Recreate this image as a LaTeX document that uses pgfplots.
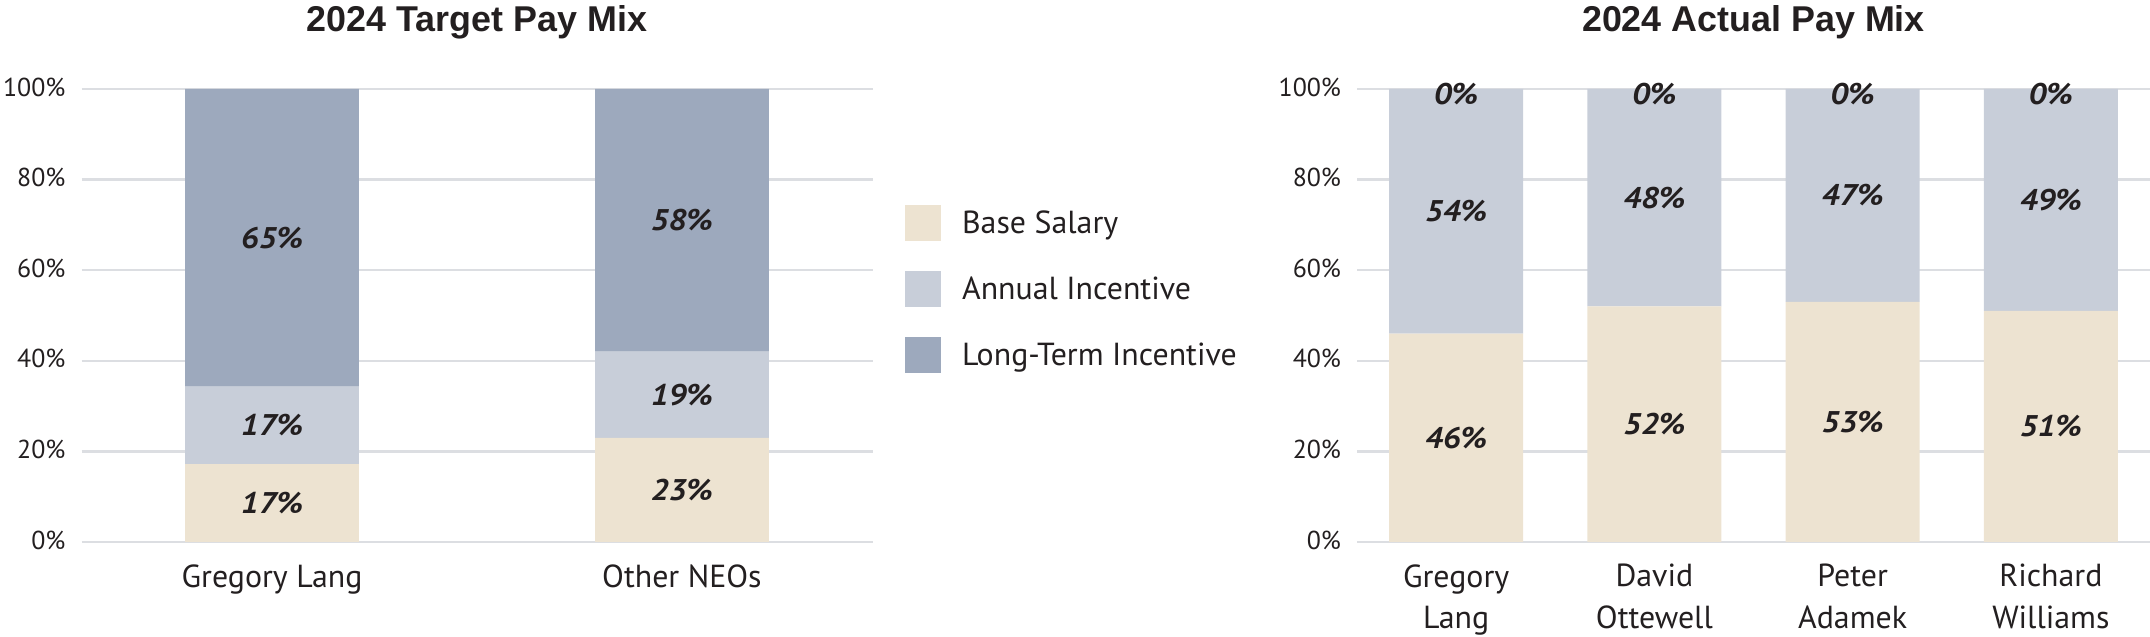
\documentclass[border=0pt]{standalone}
\usepackage{fontspec}
\setmainfont{PT Sans}
\newfontfamily\titlefont{Liberation Sans}
\newfontfamily\valfont[FakeStretch=1.1]{PT Sans}
\usepackage{pgfplots}
\usepackage{pgfplotstable}
\pgfplotsset{compat=1.18}
\definecolor{cBase}{HTML}{EDE3D1}
\definecolor{cAnn}{HTML}{C8CED9}
\definecolor{cLTI}{HTML}{9DA9BD}
\definecolor{cGrid}{HTML}{DCDEE2}
\definecolor{cText}{HTML}{231F20}

% Target pay mix (left): segment heights
\pgfplotstableread{
x h
0 17.2
1 23
}\tBaseT
\pgfplotstableread{
x h
0 17.1
1 19
}\tAnnT
\pgfplotstableread{
x h
0 65.7
1 58
}\tLtiT
% label positions (segment centres) and printed values
\pgfplotstableread{
x y lab
0 8.6 17
0 25.75 17
0 67.1 65
1 11.5 23
1 32.5 19
1 71 58
}\tLabT
% Actual pay mix (right)
\pgfplotstableread{
x h
0 46
1 52
2 53
3 51
}\tBaseA
\pgfplotstableread{
x h
0 54
1 48
2 47
3 49
}\tAnnA
\pgfplotstableread{
x h
0 0
1 0
2 0
3 0
}\tLtiA
\pgfplotstableread{
x y lab
0 23 46
0 73 54
0 98.9 0
1 26 52
1 76 48
1 98.9 0
2 26.5 53
2 76.5 47
2 98.9 0
3 25.5 51
3 75.5 49
3 98.9 0
}\tLabA

\pgfplotsset{
 paymix/.style={
  ybar stacked, scale only axis, height=226.5bp, anchor=south west,
  ymin=0, ymax=100,
  ytick={0,20,...,100}, yticklabel={\pgfmathprintnumber{\tick}\%},
  /pgf/number format/assume math mode=true,
  ymajorgrids, grid style={cGrid, line width=1.2bp},
  axis line style={draw=none}, major tick length=0pt,
  xtick=data,
  yticklabel style={font=\fontsize{13}{16}\selectfont, text=cText, anchor=east, inner sep=0pt, xshift=-7.8bp, yshift=1bp},
  xticklabel style={font=\fontsize{16}{21}\selectfont, text=cText, align=center, anchor=north, inner sep=0pt, yshift=-11bp},
  every axis title/.style={at={(0.5,1)}, anchor=base, yshift=28.7bp, font=\titlefont\bfseries\fontsize{18}{20}\selectfont, text=cText},
 },
 labels/.style={
  scale only axis, height=226.5bp, anchor=south west, hide axis, clip=false,
  ymin=0, ymax=100,
  nodes near coords={\pgfplotspointmeta\%},
  point meta=explicit symbolic,
  every node near coord/.append style={font=\valfont\bfseries\itshape\fontsize{15}{17}\selectfont, text=cText, anchor=center, inner sep=0pt},
 }
}

\begin{document}
\begin{tikzpicture}
\useasboundingbox (0,0) rectangle (1075bp,318.5bp);
% ---- left chart
\begin{axis}[paymix, at={(40.75bp,47.5bp)}, width=395.5bp,
  xmin=-0.465, xmax=1.465, bar width=0.424,
  xticklabels={Gregory Lang, Other NEOs},
  title={2024 Target Pay Mix}]
\addplot[fill=cBase, draw=none] table[x=x, y=h]{\tBaseT};
\addplot[fill=cAnn, draw=none] table[x=x, y=h]{\tAnnT};
\addplot[fill=cLTI, draw=none] table[x=x, y=h]{\tLtiT};
\end{axis}
\begin{axis}[labels, at={(40.75bp,47.5bp)}, width=395.5bp, xmin=-0.465, xmax=1.465]
\addplot[draw=none, mark=none] table[x=x, y=y, meta=lab]{\tLabT};
\end{axis}
% ---- right chart
\begin{axis}[paymix, at={(678.5bp,47.5bp)}, width=396.5bp,
  xmin=-0.5, xmax=3.5, bar width=0.676,
  xticklabels={{Gregory\\Lang},{David\\Ottewell},{Peter\\Adamek},{Richard\\Williams}},
  title={2024 Actual Pay Mix}]
\addplot[fill=cBase, draw=none] table[x=x, y=h]{\tBaseA};
\addplot[fill=cAnn, draw=none] table[x=x, y=h]{\tAnnA};
\addplot[fill=cLTI, draw=none] table[x=x, y=h]{\tLtiA};
\end{axis}
\begin{axis}[labels, at={(678.5bp,47.5bp)}, width=396.5bp, xmin=-0.5, xmax=3.5]
\addplot[draw=none, mark=none] table[x=x, y=y, meta=lab]{\tLabA};
\end{axis}
% ---- legend
\begin{scope}[font=\fontsize{16}{20}\selectfont, text=cText]
\fill[cBase] (452.5bp,198bp) rectangle (470.5bp,216bp);
\node[anchor=base west, inner sep=0pt] at (480.85bp,201.85bp) {Base Salary};
\fill[cAnn] (452.5bp,165bp) rectangle (470.5bp,183bp);
\node[anchor=base west, inner sep=0pt] at (480.85bp,168.85bp) {Annual Incentive};
\fill[cLTI] (452.5bp,132bp) rectangle (470.5bp,150bp);
\node[anchor=base west, inner sep=0pt] at (480.85bp,135.85bp) {Long-Term Incentive};
\end{scope}
\end{tikzpicture}
\end{document}
